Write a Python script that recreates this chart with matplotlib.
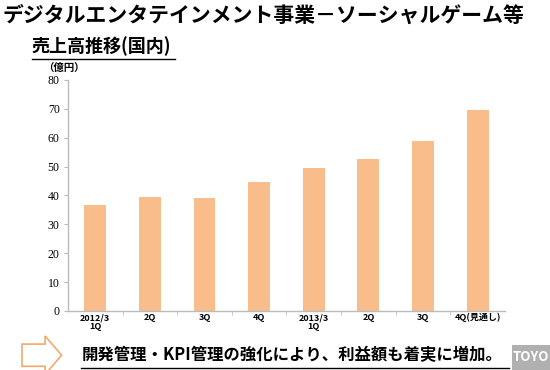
import matplotlib
matplotlib.use("Agg")
import matplotlib.pyplot as plt
from matplotlib.patches import Polygon, Rectangle

plt.rcParams['font.family'] = ['Noto Sans CJK JP', 'DejaVu Sans']

categories = ["2012/3\n1Q", "2Q", "3Q", "4Q", "2013/3\n1Q", "2Q", "3Q", "4Q(見通し)"]
values = [36.7, 39.4, 39.0, 44.6, 49.4, 52.8, 58.8, 69.6]
yticks = [0, 10, 20, 30, 40, 50, 60, 70, 80]

title = "デジタルエンタテインメント事業－ソーシャルゲーム等"
subtitle = "売上高推移(国内)"
unit = "（億円）"
footer = "開発管理・KPI管理の強化により、利益額も着実に増加。"

fig = plt.figure(figsize=(5.5, 3.7), dpi=100)
fig.patch.set_facecolor("white")
ax = fig.add_axes([0.1236, 0.1595, 0.7945, 0.6243])

x = list(range(len(values)))
ax.bar(x, values, width=0.4, color="#F8BD8B", edgecolor="none")
ax.set_xlim(-0.5, len(values) - 0.5)
ax.set_ylim(0, 80)
ax.set_yticks(yticks)
ax.set_yticklabels([str(v) for v in yticks], fontfamily="Liberation Serif", fontsize=8.5)
ax.set_xticks(x)
ax.set_xticklabels(categories, fontsize=6.5, fontweight="bold", linespacing=0.95)
ax.tick_params(axis="x", length=0, pad=1.5)
ax.set_xticks([i + 0.5 for i in x[:-1]], minor=True)
ax.tick_params(axis="x", which="minor", length=3, color="#BBBBBB")
ax.tick_params(axis="y", length=3, color="#BBBBBB", pad=3)
for s in ["top", "right"]:
    ax.spines[s].set_visible(False)
for s in ["left", "bottom"]:
    ax.spines[s].set_color("#BBBBBB")
    ax.spines[s].set_linewidth(1.0)

fig.text(0.004, 0.958, title, fontsize=15, fontweight="bold", va="center", ha="left")
fig.text(0.058, 0.876, subtitle, fontsize=13, fontweight="bold", va="center", ha="left")
fig.add_artist(plt.Line2D([0.058, 0.318], [0.840, 0.840], color="black", lw=1.0))
fig.text(0.078, 0.816, unit, fontsize=7.5, fontweight="bold", va="center", ha="left")

# hollow arrow
pts = [[0.040, 0.070], [0.082, 0.070], [0.082, 0.092], [0.112, 0.040],
       [0.082, -0.012], [0.082, 0.010], [0.040, 0.010]]
fig.add_artist(Polygon(pts, closed=True, facecolor="white", edgecolor="#F3A96B", lw=1.2))

fig.text(0.148, 0.040, footer, fontsize=11.8, fontweight="bold", va="center", ha="left")
fig.add_artist(plt.Line2D([0.148, 0.925], [0.005, 0.005], color="black", lw=1.0))

fig.add_artist(Rectangle((0.93, 0.0), 0.07, 0.068, facecolor="#A8A8A8", edgecolor="none", alpha=0.9))
fig.text(0.965, 0.034, "TOYO", fontsize=9.5, fontweight="bold", color="white", va="center", ha="center")

fig.savefig("out.png", dpi=100, facecolor="white")
